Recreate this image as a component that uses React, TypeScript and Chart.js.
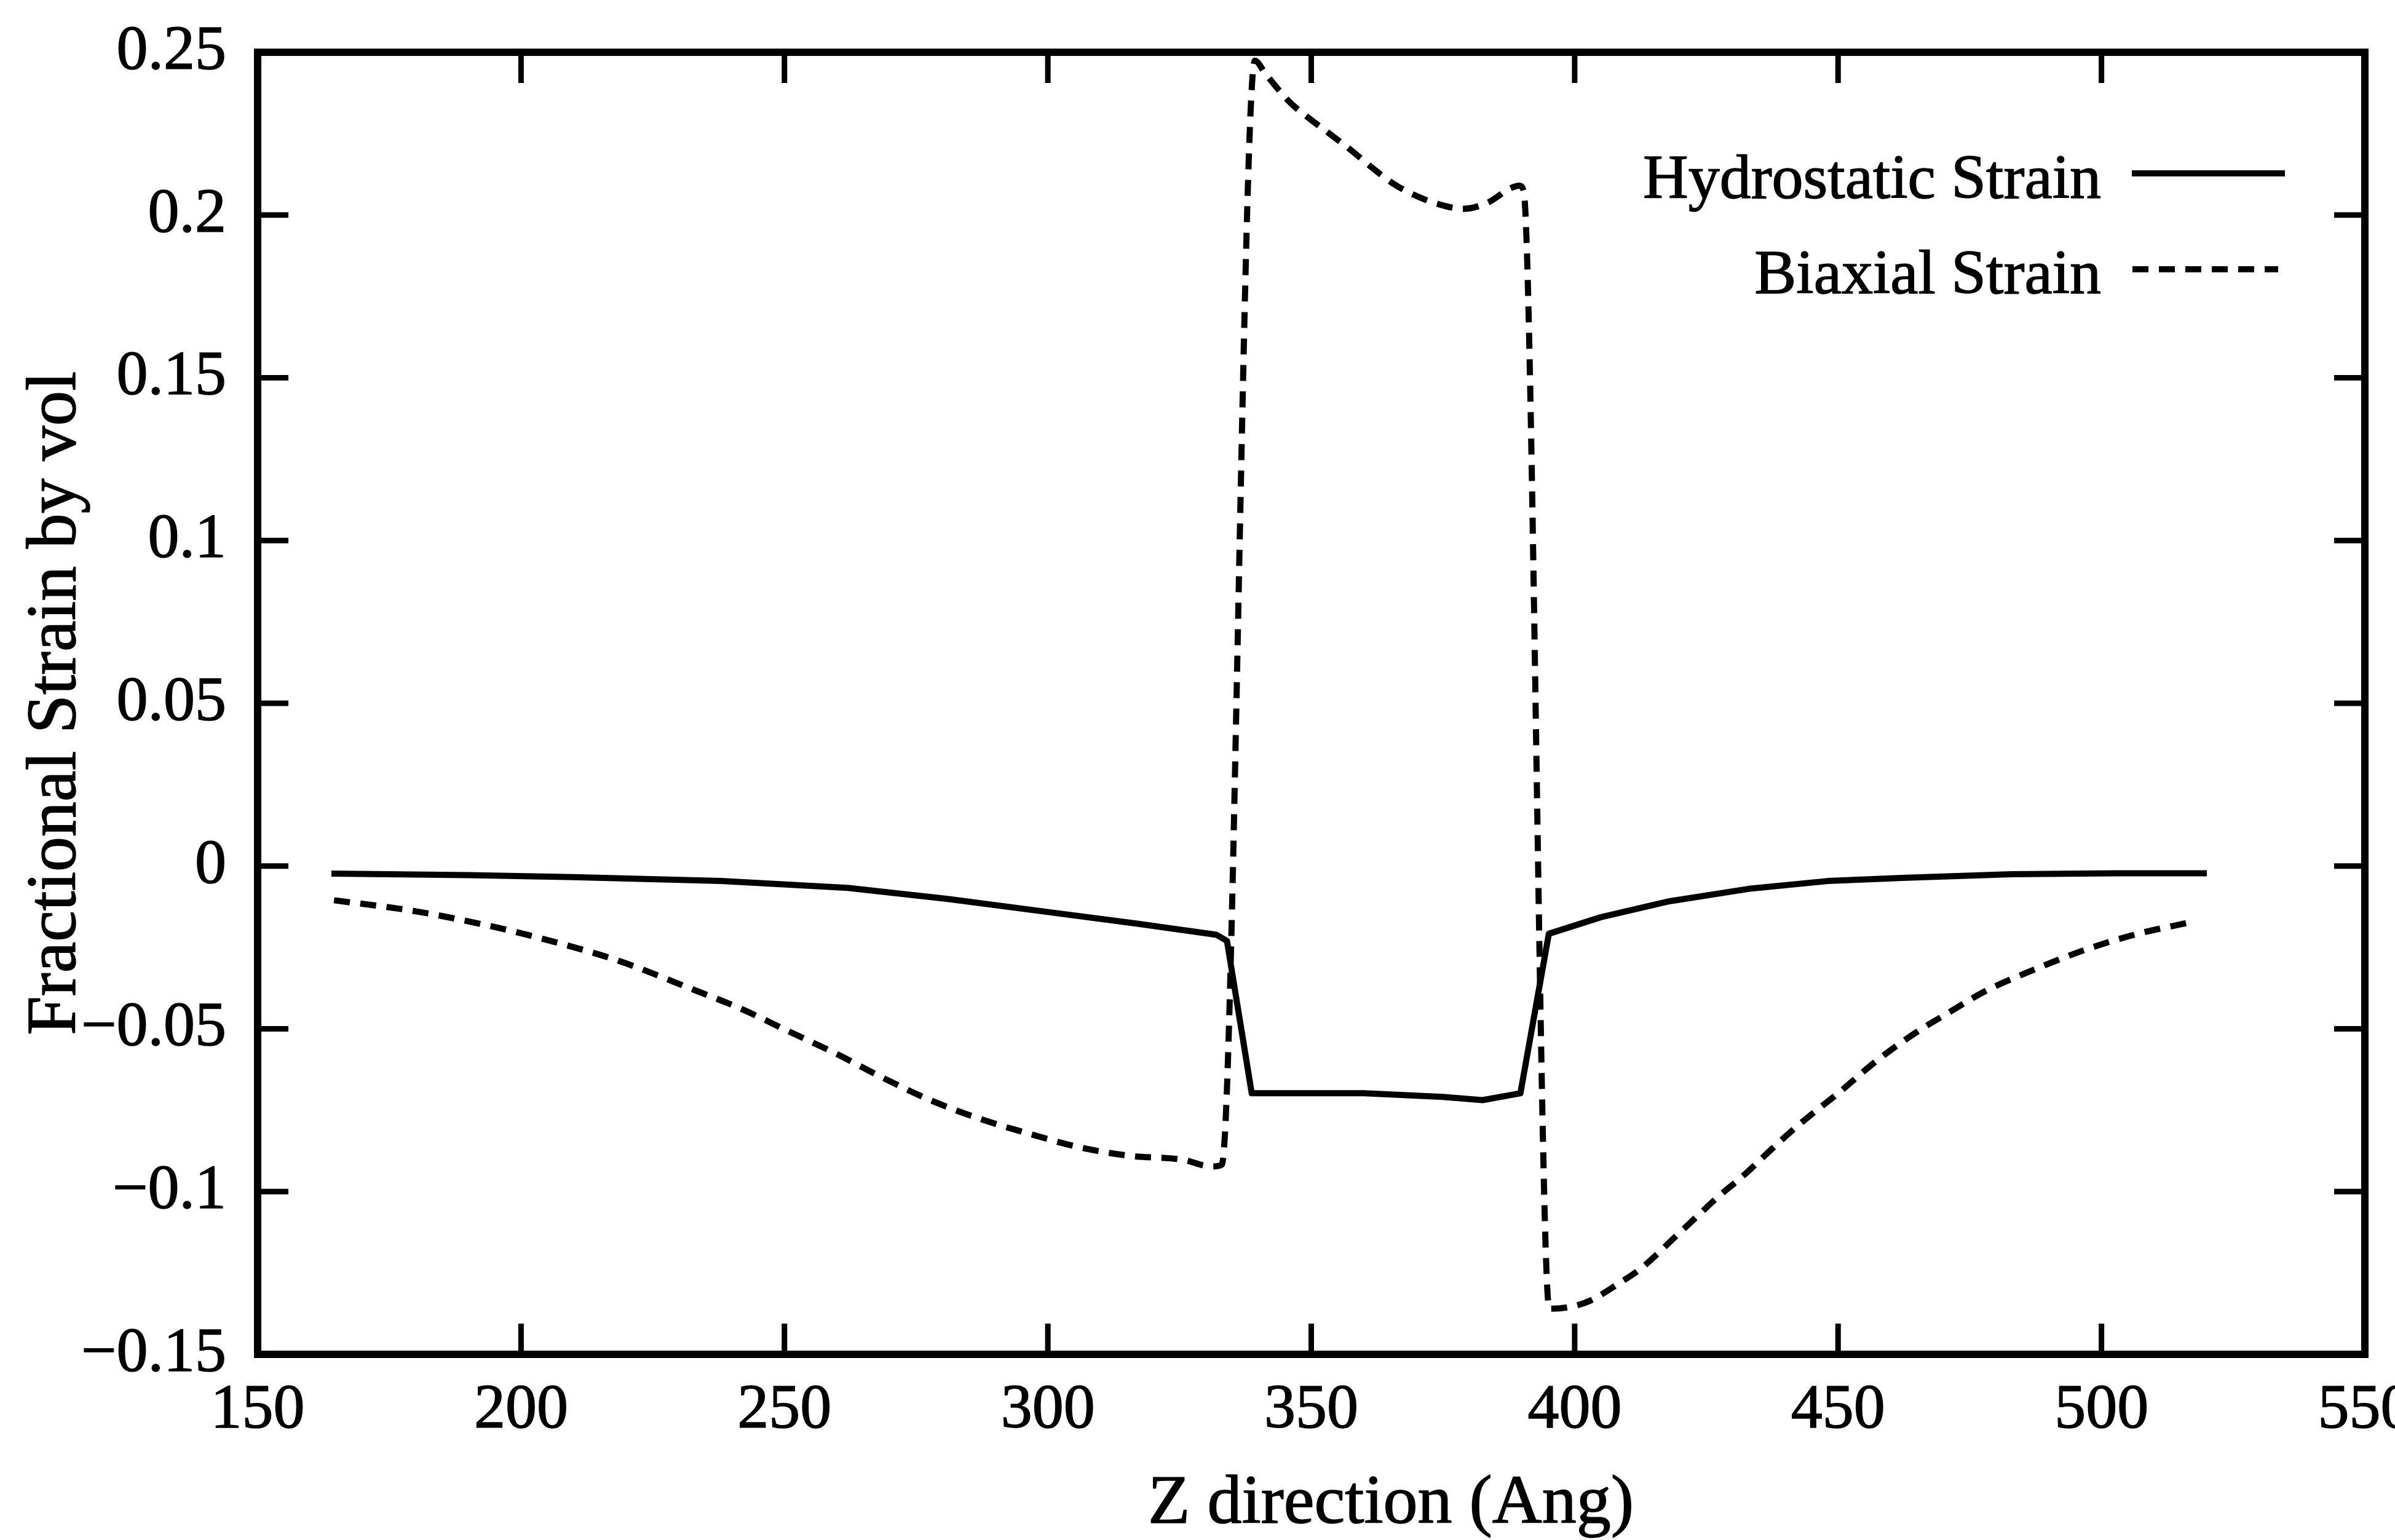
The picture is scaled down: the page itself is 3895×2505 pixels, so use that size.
import React, { useEffect, useRef } from "react";
import { Chart, registerables } from "chart.js";

Chart.register(...registerables);

// ---- Data ----
const hydroZ = [
  164, 190, 210, 238, 262, 281, 299, 317, 332, 334, 338.7, 360, 375, 382.5,
  389.7, 395.1, 405, 418, 433, 448, 463, 483, 503, 520,
];
const hydroStrain = [
  -0.0023, -0.0028, -0.0034, -0.0046, -0.0067, -0.0101, -0.0139, -0.0177,
  -0.0211, -0.023, -0.0698, -0.0698, -0.0709, -0.0719, -0.0698, -0.0208,
  -0.0157, -0.0108, -0.007, -0.0046, -0.0036, -0.0025, -0.0022, -0.0022,
];

const biaxZ = [
  164.5, 180, 194.6, 204, 218.5, 232, 241.7, 250.6, 260, 268.5, 277.4, 287,
  296.4, 306, 315.5, 325.6, 331, 333, 339.3, 341.3, 345.9, 349.6, 353.7, 357.5,
  361.5, 365.7, 369.9, 374, 378.8, 383.5, 387.7, 389.5, 390.3, 395.2, 399.6,
  403.1, 408.1, 412.6, 419.1, 423.1, 427.1, 432.1, 437.1, 441.6, 446.1, 450.1,
  457.1, 465.1, 470.1, 478.1, 487.1, 496.6, 506.2, 516.7,
];
const biaxStrain = [
  -0.0105, -0.0139, -0.0186, -0.0223, -0.0291, -0.0375, -0.0438, -0.0506,
  -0.0578, -0.0649, -0.0717, -0.0776, -0.0822, -0.0864, -0.089, -0.0902,
  -0.0923, -0.0918, 0.2474, 0.2434, 0.2347, 0.2297, 0.2247, 0.22, 0.2146,
  0.2095, 0.2059, 0.2034, 0.2019, 0.2038, 0.2081, 0.209, 0.2075, -0.136,
  -0.1353, -0.1334, -0.1285, -0.1236, -0.1139, -0.1078, -0.1018, -0.095,
  -0.0874, -0.0808, -0.0748, -0.0697, -0.0601, -0.0508, -0.0459, -0.0383,
  -0.0319, -0.0259, -0.0211, -0.0173,
];

const seriesLabels = ["Hydrostatic Strain", "Biaxial Strain"];
const xTitle = "Z direction (Ang)";
const yTitle = "Fractional Strain by vol";
const xMin = 150;
const xMax = 550;
const xStep = 50;
const yMin = -0.15;
const yMax = 0.25;
const yStep = 0.05;

const FONT = "'Liberation Serif', 'Times New Roman', serif";
const W = 3895;
const H = 2505;
const DASH = [26, 17];
const TEXT_STROKE = 1.5;

function fmtY(v: number): string {
  const r = Math.round(v * 100) / 100;
  if (r === 0) return "0";
  return (r < 0 ? "\u2212" : "") + String(Math.abs(r));
}

function boldText(ctx: CanvasRenderingContext2D, s: string, x: number, y: number) {
  ctx.lineWidth = TEXT_STROKE;
  ctx.lineJoin = "round";
  ctx.strokeText(s, x, y);
  ctx.fillText(s, x, y);
}

const framePlugin = {
  id: "gnuplotFrame",
  afterDraw(chart: any) {
    const { ctx, chartArea } = chart;
    const { left, right, top, bottom } = chartArea;
    const xs = chart.scales.x;
    const ys = chart.scales.y;
    ctx.save();
    ctx.strokeStyle = "#000";
    ctx.fillStyle = "#000";
    ctx.lineCap = "butt";
    // inward ticks on all four sides
    ctx.lineWidth = 9;
    const tl = 50;
    ctx.beginPath();
    xs.ticks.forEach((t: any) => {
      const px = xs.getPixelForValue(t.value);
      if (px <= left + 2 || px >= right - 2) return;
      ctx.moveTo(px, bottom);
      ctx.lineTo(px, bottom - tl);
      ctx.moveTo(px, top);
      ctx.lineTo(px, top + tl);
    });
    ys.ticks.forEach((t: any) => {
      const py = ys.getPixelForValue(t.value);
      if (py <= top + 2 || py >= bottom - 2) return;
      ctx.moveTo(left, py);
      ctx.lineTo(left + tl, py);
      ctx.moveTo(right, py);
      ctx.lineTo(right - tl, py);
    });
    ctx.stroke();
    // frame
    ctx.lineWidth = 12;
    ctx.lineJoin = "miter";
    ctx.strokeRect(left, top, right - left, bottom - top);

    // x axis title
    ctx.font = `112px ${FONT}`;
    ctx.textAlign = "center";
    ctx.textBaseline = "alphabetic";
    boldText(ctx, xTitle, 2262, 2477);

    // y axis title (rotated)
    ctx.save();
    ctx.translate(122, (top + bottom) / 2);
    ctx.rotate(-Math.PI / 2);
    ctx.font = `114px ${FONT}`;
    ctx.textAlign = "center";
    ctx.textBaseline = "alphabetic";
    boldText(ctx, yTitle, 0, 0);
    ctx.restore();

    // legend (text left of sample, inside plot)
    const ds = chart.data.datasets;
    const rows = [
      { text: ds[0].label, textY: 322, lineY: 282, x0: 3467, x1: 3716, dash: ds[0].borderDash || [] },
      { text: ds[1].label, textY: 477, lineY: 438, x0: 3468, x1: 3705, dash: ds[1].borderDash || [] },
    ];
    ctx.font = `102px ${FONT}`;
    ctx.textAlign = "right";
    rows.forEach((r) => {
      ctx.setLineDash([]);
      boldText(ctx, r.text, 3417, r.textY);
      ctx.beginPath();
      ctx.lineWidth = 10;
      ctx.lineCap = "butt";
      ctx.setLineDash(r.dash);
      ctx.moveTo(r.x0, r.lineY);
      ctx.lineTo(r.x1, r.lineY);
      ctx.stroke();
    });
    ctx.setLineDash([]);
    ctx.restore();
  },
};

export default function App() {
  const ref = useRef<HTMLCanvasElement | null>(null);

  useEffect(() => {
    document.body.style.margin = "0";
    document.body.style.overflow = "hidden";
    const canvas = ref.current;
    if (!canvas) return;
    const tickFont = { family: FONT, size: 102 };
    const chart = new Chart(canvas, {
      type: "line",
      data: {
        datasets: [
          {
            label: seriesLabels[0],
            data: hydroZ.map((x, i) => ({ x, y: hydroStrain[i] })),
            borderColor: "#000",
            backgroundColor: "#000",
            borderWidth: 10,
            pointRadius: 0,
            tension: 0,
            fill: false,
            borderJoinStyle: "round",
          },
          {
            label: seriesLabels[1],
            data: biaxZ.map((x, i) => ({ x, y: biaxStrain[i] })),
            borderColor: "#000",
            backgroundColor: "#000",
            borderWidth: 10,
            borderDash: DASH,
            pointRadius: 0,
            cubicInterpolationMode: "monotone",
            fill: false,
          },
        ],
      },
      options: {
        responsive: false,
        maintainAspectRatio: false,
        animation: false,
        devicePixelRatio: 1,
        layout: { padding: { left: 0, top: 85, right: W - 3846, bottom: 0 } },
        scales: {
          x: {
            type: "linear",
            min: xMin,
            max: xMax,
            grid: { display: false, drawTicks: false },
            border: { display: false },
            title: { display: false, text: xTitle },
            ticks: {
              stepSize: xStep,
              autoSkip: false,
              maxRotation: 0,
              padding: 31,
              color: "#000",
              font: tickFont,
              textStrokeColor: "#000",
              textStrokeWidth: TEXT_STROKE,
            },
            afterFit: (s: any) => {
              s.height = H - 2203;
              s.paddingLeft = 0;
              s.paddingRight = 0;
            },
          },
          y: {
            type: "linear",
            min: yMin,
            max: yMax,
            grid: { display: false, drawTicks: false },
            border: { display: false },
            title: { display: false, text: yTitle },
            ticks: {
              stepSize: yStep,
              autoSkip: false,
              padding: 51,
              color: "#000",
              font: tickFont,
              textStrokeColor: "#000",
              textStrokeWidth: TEXT_STROKE,
              callback: (v: any) => fmtY(Number(v)),
            },
            afterFit: (s: any) => {
              s.width = 419;
              s.paddingTop = 0;
              s.paddingBottom = 0;
            },
          },
        },
        plugins: {
          legend: { display: false },
          tooltip: { enabled: false },
        },
      },
      plugins: [framePlugin],
    } as any);
    return () => chart.destroy();
  }, []);

  return (
    <div style={{ width: W, height: H, background: "#fff" }}>
      <canvas ref={ref} width={W} height={H} style={{ display: "block" }} />
    </div>
  );
}
